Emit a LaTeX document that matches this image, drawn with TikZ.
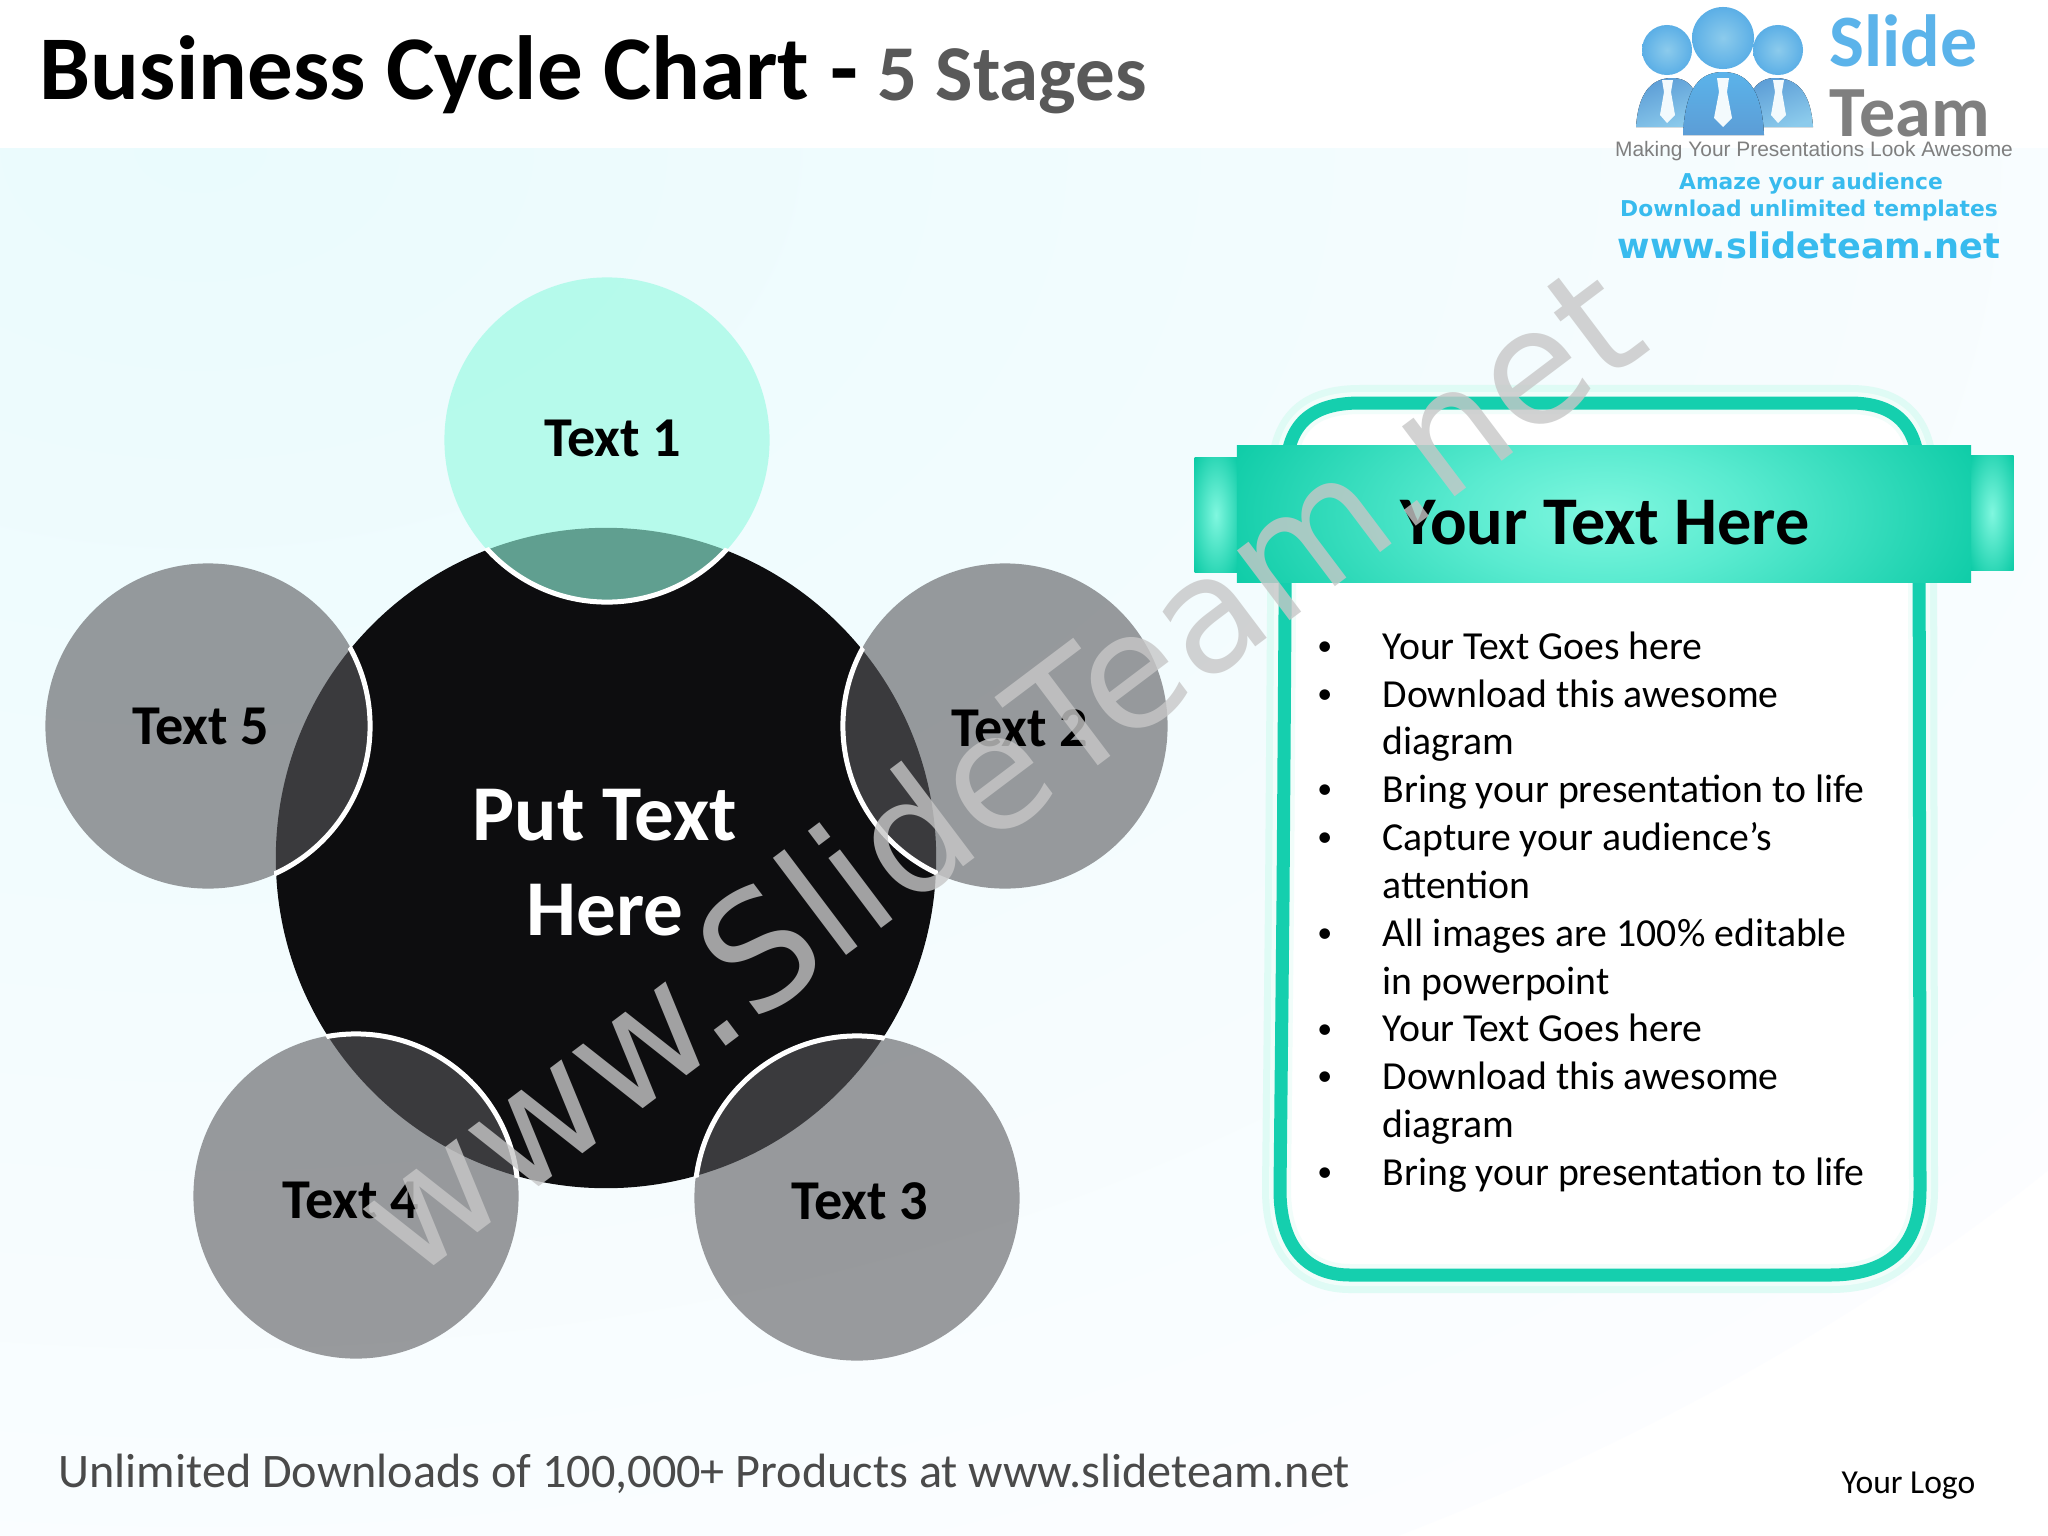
\documentclass[tikz,border=0pt]{standalone}
\usepackage{fontspec}
\setmainfont{Carlito}
\newfontfamily\logofont{Liberation Sans}
\newfontfamily\wmfont{DejaVu Sans}
\definecolor{RibbonDark} {HTML}{0CCBA6}
\definecolor{RibbonMid}  {HTML}{5AEBD0}
\definecolor{RibbonLight}{HTML}{80F7DF}
\definecolor{FrameTeal}  {HTML}{15CFAE}
\definecolor{FrameGlow}  {HTML}{DFFBF5}
\definecolor{BgCyan}     {HTML}{EAFBFD}
\definecolor{BgPale}     {HTML}{FCFDFF}
\definecolor{StageGray}  {HTML}{58585C}
\definecolor{StageMint}  {HTML}{94FAE0}
\definecolor{HubBlack}   {HTML}{0D0D0F}
\definecolor{TitleGray}  {HTML}{595959}
\definecolor{FootGray}   {HTML}{4A4A4A}
\definecolor{LogoBlue}   {HTML}{5BB3EA}
\definecolor{LogoDeep}   {HTML}{5C9DD6}
\definecolor{LogoSky}    {HTML}{8CCBEC}
\definecolor{LogoCyan}   {HTML}{38BBEE}
\definecolor{LogoGray}   {HTML}{7F7F7F}
\pgfdeclareradialshading{ribbontab}{\pgfpoint{0bp}{0bp}}{color(0bp)=(RibbonLight); color(35bp)=(RibbonDark); color(100bp)=(RibbonDark)}
\pgfdeclareradialshading{ribbonwide}{\pgfpoint{0bp}{0bp}}{color(0bp)=(RibbonLight); color(8.5bp)=(RibbonMid); color(24bp)=(RibbonDark); color(100bp)=(RibbonDark)}
\usetikzlibrary{positioning}
\tikzset{
  stage/.style={circle,minimum size=3.25cm,inner sep=0pt},
  stagetext/.style={font=\fontsize{16}{18}\selectfont\bfseries,text=black},
  framepath/.style={insert path={(1283,900) -- (1286,470) .. controls (1288,425) and (1310,403) .. (1360,403)
    -- (1850,403) .. controls (1895,403) and (1917,425) .. (1919,470) -- (1920,1190)
    .. controls (1920,1250) and (1885,1275) .. (1830,1275) -- (1350,1275)
    .. controls (1310,1275) and (1280,1250) .. (1280,1190) -- cycle}},
  ribbontabs/.style={shading=ribbontab,minimum width=0.43cm,minimum height=1.15cm,inner sep=0pt},
  personhead/.style={circle,inner sep=0pt,inner color=LogoSky,outer color=LogoBlue!80!LogoDeep},
  tie/.style={fill=white!90!LogoSky,draw=none}
}
\begin{document}
\begin{tikzpicture}[x=0.01cm,y=-0.01cm]
  \useasboundingbox (0,0) rectangle (2048,1536);
  % Background
  \fill[white] (0,0) rectangle (2048,1536);
  \begin{scope}
    \clip (0,148) rectangle (2048,1536);
    \shade[inner color=BgCyan,outer color=BgPale] (200,148) ellipse [x radius=24cm,y radius=16cm];
  \end{scope}
  % Title
  \node[anchor=base west,inner sep=0pt,font=\fontsize{25.9}{30}\selectfont\bfseries]
    (Title) at (39,99) {Business Cycle Chart -};
  \node[anchor=base west,inner sep=0pt,font=\fontsize{22.5}{26}\selectfont\bfseries,text=TitleGray]
    (Sub) at (877,100) {5 Stages};
  % Hub and stages
  \node[circle,fill=HubBlack,minimum size=6.6cm,inner sep=0pt] (Hub) at (606,858) {};
  \node[stage,fill=StageMint,fill opacity=.62] (S1) at (607,440) {};
  \node[stage,fill=StageGray,fill opacity=.6] (S2) at (1005,726) {};
  \node[stage,fill=StageGray,fill opacity=.6] (S3) at (857,1198) {};
  \node[stage,fill=StageGray,fill opacity=.6] (S4) at (356,1196) {};
  \node[stage,fill=StageGray,fill opacity=.6] (S5) at (208,726) {};
  % White rings, seen only on the hub
  \begin{scope}
    \clip (Hub.center) circle (3.32cm);
    \draw[white,line width=.5mm] (S1.center) circle (1.62cm) (S2.center) circle (1.62cm)
      (S3.center) circle (1.62cm) (S4.center) circle (1.62cm) (S5.center) circle (1.62cm);
  \end{scope}
  \node[stagetext] (L1) at (613,438) {Text 1};
  \node[stagetext] (L2) at (1020,728) {Text 2};
  \node[stagetext] (L3) at (860,1201) {Text 3};
  \node[stagetext] (L4) at (351,1200) {Text 4};
  \node[stagetext] (L5) at (201,726) {Text 5};
  \node[align=center,text=white,font=\fontsize{22.5}{27}\selectfont\bfseries]
    (HubText) at (605,863) {Put Text\\Here};
  % Panel
  \draw[FrameGlow,line width=3.6mm,line join=round,framepath];
  \fill[white,framepath];
  \draw[FrameGlow!45,line width=2.2mm,line join=round,framepath];
  \draw[FrameTeal,line width=1.3mm,framepath];
  \node[ribbontabs] (TabL) at (1216,515) {};
  \node[ribbontabs] (TabR) at (1992,513) {};
  \node[minimum width=7.34cm,minimum height=1.37cm,inner sep=0pt,
    path picture={\shade[shading=ribbonwide] (path picture bounding box.center) ellipse [x radius=4.2cm,y radius=2cm];}]
    (Band) at (1604,514) {};
  \node[font=\fontsize{19.4}{22}\selectfont\bfseries] (Head) at (1605,523) {Your Text Here};
  % Bullet list
  \node[anchor=north west,inner sep=0pt,align=left,font=\fontsize{11.3}{13.6}\selectfont]
    (Items) at (1382,631) {Your Text Goes here\\Download this awesome\\diagram\\Bring your presentation to life\\
    Capture your audience’s\\attention\\All images are 100\% editable\\in powerpoint\\Your Text Goes here\\
    Download this awesome\\diagram\\Bring your presentation to life};
  \node[inner sep=0pt,align=left,font=\fontsize{8.5}{13.6}\selectfont,left=0.49cm of Items.north west,anchor=north east,yshift=-1mm]
    (Dots) {•\\•\\\mbox{}\\•\\•\\\mbox{}\\•\\\mbox{}\\•\\•\\\mbox{}\\•};
  % Footer
  \node[anchor=base west,inner sep=0pt,font=\fontsize{13.7}{15}\selectfont,text=FootGray]
    (Foot) at (58,1487) {Unlimited Downloads of 100,000+ Products at www.slideteam.net};
  \node[anchor=base east,inner sep=0pt,font=\fontsize{9.55}{11}\selectfont]
    (Logo) at (1976,1493) {Your Logo};
  % Logo people
  \fill[left color=LogoDeep,right color=LogoSky,shading angle=20]
    (1636,127) .. controls (1638,95) and (1650,78) .. (1672,78) .. controls (1690,78) and (1700,90) .. (1702,127) -- cycle;
  \fill[left color=LogoDeep,right color=LogoSky,shading angle=20]
    (1813,127) .. controls (1811,95) and (1799,78) .. (1775,78) .. controls (1758,78) and (1746,90) .. (1744,127) -- cycle;
  \fill[top color=LogoBlue,bottom color=LogoDeep]
    (1683,135) .. controls (1685,95) and (1695,72) .. (1723,72) .. controls (1751,72) and (1762,95) .. (1764,135) -- cycle;
  \node[personhead,minimum size=0.5cm] (HeadL) at (1667,50) {};
  \node[personhead,minimum size=0.5cm] (HeadR) at (1778,50) {};
  \node[personhead,minimum size=0.62cm] (HeadC) at (1723,38) {};
  \fill[tie] (1662,80) -- (1673,80) -- (1671,92) -- (1675,115) -- (1667,123) -- (1660,115) -- (1664,92) -- cycle;
  \fill[tie] (1717,78) -- (1729,78) -- (1727,92) -- (1732,118) -- (1723,127) -- (1714,118) -- (1719,92) -- cycle;
  \fill[tie] (1773,80) -- (1784,80) -- (1782,92) -- (1786,115) -- (1778,123) -- (1771,115) -- (1775,92) -- cycle;
  \node[anchor=base west,inner sep=0pt,font=\fontsize{21}{23}\selectfont\bfseries,text=LogoBlue] (Slide) at (1829,66) {Slide};
  \node[anchor=base west,inner sep=0pt,font=\fontsize{20.5}{23}\selectfont\bfseries,text=LogoGray] (Team) at (1829,136) {Team};
  \node[font=\logofont\fontsize{5.95}{8}\selectfont,text=LogoGray,inner sep=0pt] (Tag) at (1814,151) {Making Your Presentations Look Awesome};
  \node[font=\wmfont\bfseries\fontsize{6.2}{8}\selectfont,text=LogoCyan,inner sep=0pt] (Amaze) at (1811,184) {Amaze your audience};
  \node[font=\wmfont\bfseries\fontsize{6.2}{8}\selectfont,text=LogoCyan,inner sep=0pt] (Load) at (1809,210) {Download unlimited templates};
  \node[font=\wmfont\bfseries\fontsize{10}{12}\selectfont,text=LogoCyan,inner sep=0pt] (Web) at (1809,245) {www.slideteam.net};
  % Watermark
  \node[rotate=37,font=\wmfont\fontsize{45.5}{48}\selectfont,text=black!22,opacity=.8,inner sep=0pt] (Mark) at (996,768) {www.SlideTeam.net};
\end{tikzpicture}
\end{document}
